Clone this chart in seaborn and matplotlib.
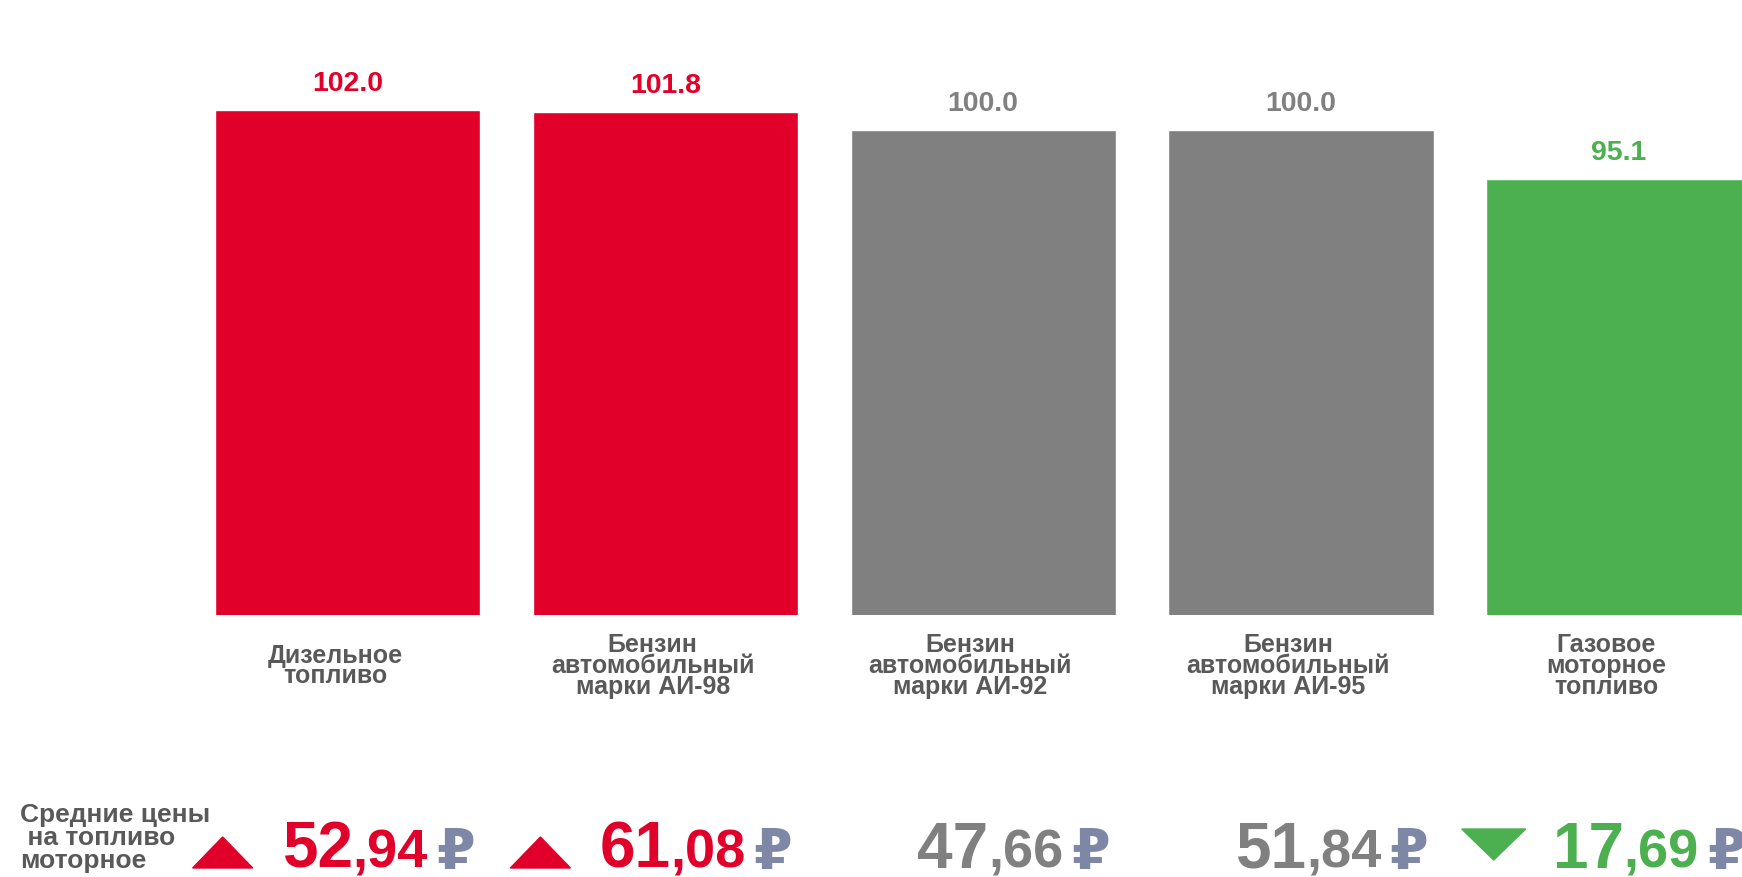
import matplotlib
matplotlib.use("Agg")
import matplotlib.pyplot as plt
import seaborn as sns
import pandas as pd
from matplotlib import transforms
from matplotlib.patches import Polygon

# ---------------- data ----------------
categories = [
    "Дизельное\nтопливо",
    "Бензин\nавтомобильный\nмарки АИ-98",
    "Бензин\nавтомобильный\nмарки АИ-92",
    "Бензин\nавтомобильный\nмарки АИ-95",
    "Газовое\nмоторное\nтопливо",
]
index_values = [102.0, 101.8, 100.0, 100.0, 95.1]
price_int = ["52", "61", "47", "51", "17"]
price_frac = ["94", "08", "66", "84", "69"]
trend = ["up", "up", "flat", "flat", "down"]
caption = "Средние цены\n на топливо\nмоторное"

# ---------------- style ----------------
COLORS = {"up": "#E0002A", "flat": "#808080", "down": "#4CAF50"}
LABEL_COLOR = "#595959"
RUBLE_COLOR = "#7E88A6"

sns.set_theme(style="white")
plt.rcParams["font.family"] = ["Liberation Sans", "DejaVu Sans"]

W, H = 1742, 877
fig = plt.figure(figsize=(W / 100, H / 100), dpi=100)
fig.patch.set_facecolor("white")

base_px = 262.0  # bar baseline, pixels from bottom
ax = fig.add_axes([0, base_px / H, 1, 1 - base_px / H])

df = pd.DataFrame({"cat": categories, "val": index_values,
                   "trend": trend})
palette = {c: COLORS[t] for c, t in zip(categories, trend)}
sns.barplot(data=df, x="cat", y="val", hue="cat", palette=palette,
            width=0.835, saturation=1, legend=False, ax=ax)
ax.set_ylim(51.4, 113.0)
ax.set_xlim(-1.094, 4.388)
ax.axis("off")

# value labels above bars
for i, (v, t) in enumerate(zip(index_values, trend)):
    ax.annotate(f"{v:.1f}", (i, v), xytext=(0, 9), textcoords="offset points",
                ha="center", va="bottom", fontsize=20.5, fontweight="bold",
                color=COLORS[t], annotation_clip=False)

# category labels under bars
blend = transforms.blended_transform_factory(ax.transData, fig.transFigure)
for i, c in enumerate(categories):
    ax.text(i - 0.04, 211.0 / H, c, transform=blend, ha="center", va="center",
            fontsize=18, fontweight="bold", color=LABEL_COLOR,
            linespacing=0.84, clip_on=False)

# caption bottom-left
fig.text(20 / W, (877 - 838) / H, caption, ha="left", va="center",
         fontsize=19, fontweight="bold", color=LABEL_COLOR, linespacing=0.97)

# bottom row: trend triangles and prices
fig.canvas.draw()
renderer = fig.canvas.get_renderer()
ident = transforms.IdentityTransform()
base_y = 9
for i, t in enumerate(trend):
    xc = ax.transData.transform((i, 0))[0]
    col = COLORS[t]
    tx = xc - 125
    if t == "up":
        fig.add_artist(Polygon([(tx - 30, 9), (tx + 30, 9), (tx, 40)],
                               closed=True, color=col, transform=ident))
    elif t == "down":
        fig.add_artist(Polygon([(tx - 32, 48), (tx + 32, 48), (tx, 17)],
                               closed=True, color=col, transform=ident))
    x0 = xc - 66
    t1 = fig.text(x0, base_y, price_int[i], transform=ident, ha="left",
                  va="baseline", fontsize=46, fontweight="bold", color=col)
    bb = t1.get_window_extent(renderer)
    t2 = fig.text(bb.x1, base_y, "," + price_frac[i], transform=ident,
                  ha="left", va="baseline", fontsize=39, fontweight="bold",
                  color=col)
    bb2 = t2.get_window_extent(renderer)
    fig.text(bb2.x1 + 8, base_y, "₽", transform=ident, ha="left",
             va="baseline", fontsize=40, fontweight="bold", color=RUBLE_COLOR)

fig.savefig("out.png", dpi=100, facecolor="white")
